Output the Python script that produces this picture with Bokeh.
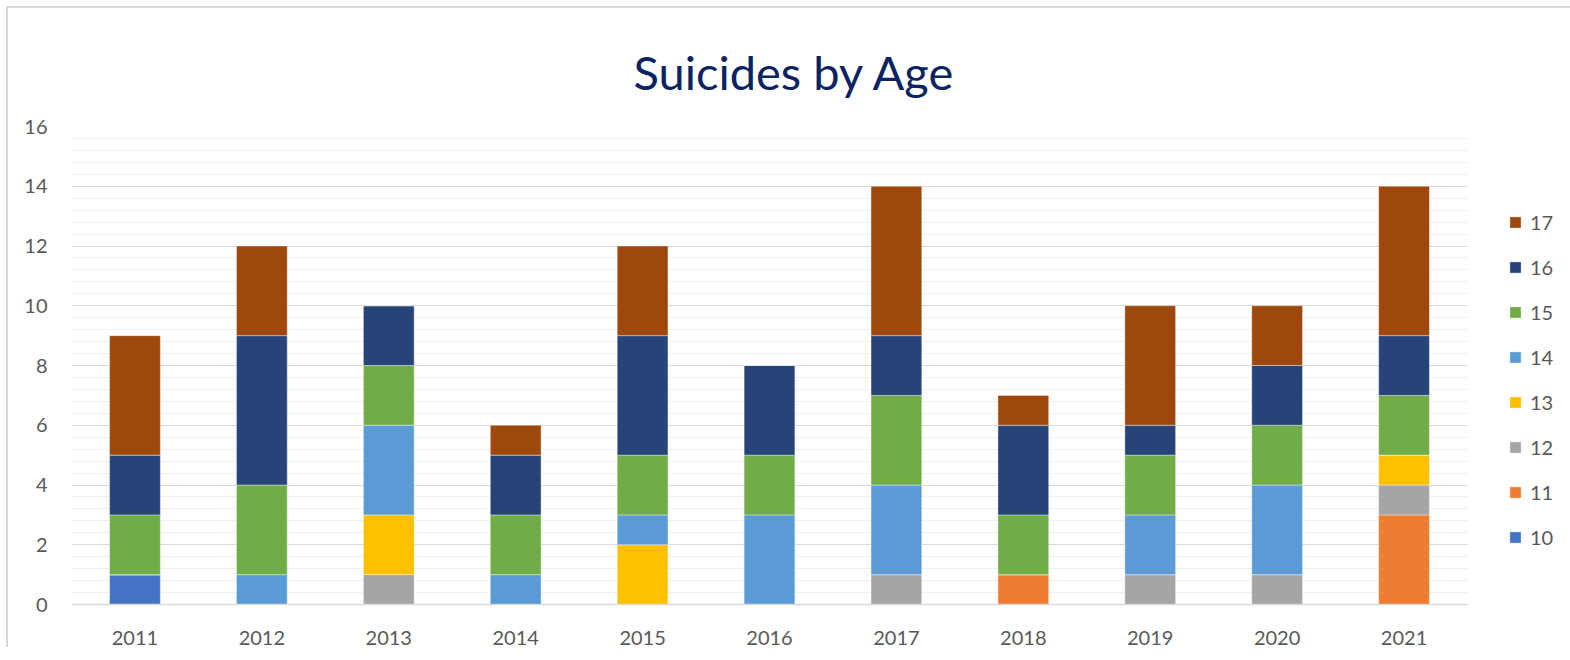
from bokeh.plotting import figure
from bokeh.models import (FactorRange, Range1d, SingleIntervalTicker, Legend,
                          LegendItem)
from bokeh.embed import file_html
from bokeh.resources import INLINE

years = ["2011", "2012", "2013", "2014", "2015", "2016", "2017", "2018", "2019", "2020", "2021"]
ages = ["10", "11", "12", "13", "14", "15", "16", "17"]
age10 = [1, 0, 0, 0, 0, 0, 0, 0, 0, 0, 0]
age11 = [0, 0, 0, 0, 0, 0, 0, 1, 0, 0, 3]
age12 = [0, 0, 1, 0, 0, 0, 1, 0, 1, 1, 1]
age13 = [0, 0, 2, 0, 2, 0, 0, 0, 0, 0, 1]
age14 = [0, 1, 3, 1, 1, 3, 3, 0, 2, 3, 0]
age15 = [2, 3, 2, 2, 2, 2, 3, 2, 2, 2, 2]
age16 = [2, 5, 2, 2, 4, 3, 2, 3, 1, 2, 2]
age17 = [4, 3, 0, 1, 3, 0, 5, 1, 4, 2, 5]
colors = ["#4472C4", "#ED7D31", "#A5A5A5", "#FFC000", "#5B9BD5", "#70AD47", "#264478", "#9E480E"]
title_text = "Suicides by Age"

data = {"year": years}
for a, vals in zip(ages, [age10, age11, age12, age13, age14, age15, age16, age17]):
    data[a] = vals

FONT = "Lato"
GREY = "#595959"

p = figure(x_range=FactorRange(*years, range_padding=0), y_range=Range1d(0, 16),
           frame_width=1396, frame_height=478, output_backend="svg", toolbar_location=None,
           min_border_left=63, min_border_right=101, min_border_top=118, min_border_bottom=40,
           title=title_text)
p.outline_line_color = None
p.border_fill_color = None
p.styles = {"margin-left": "6px", "margin-top": "6px",
            "border-left": "2px solid #d9d9d9", "border-top": "2px solid #d9d9d9",
            "border-right": "none", "border-bottom": "none"}

renderers = p.vbar_stack(ages, x="year", width=0.40, source=data, color=colors,
                         line_color="white", line_alpha=0.4, line_width=1)

p.title.align = "left"
p.title.offset = 562
p.title.vertical_align = "top"
p.title.standoff = 50
p.title.text_font = FONT
p.title.text_font_size = "47px"
p.title.text_font_style = "normal"
p.title.text_color = "#0A2463"

p.yaxis.ticker = SingleIntervalTicker(interval=2, num_minor_ticks=5)
p.ygrid.grid_line_color = "#d9d9d9"
p.ygrid.grid_line_width = 1.2
p.ygrid.minor_grid_line_color = "#f0f0f0"
p.ygrid.minor_grid_line_width = 1.2
p.xgrid.grid_line_color = None

p.yaxis.axis_line_color = None
p.yaxis.major_tick_line_color = None
p.yaxis.minor_tick_line_color = None
p.yaxis.major_label_standoff = 18
p.yaxis.major_label_text_font = FONT
p.yaxis.major_label_text_font_size = "20px"
p.yaxis.major_label_text_color = GREY

p.xaxis.axis_line_color = "#d9d9d9"
p.xaxis.axis_line_width = 1.5
p.xaxis.major_tick_line_color = None
p.xaxis.minor_tick_line_color = None
p.xaxis.major_label_standoff = 20
p.xaxis.major_label_text_font = FONT
p.xaxis.major_label_text_font_size = "20px"
p.xaxis.major_label_text_color = GREY

items = [LegendItem(label=a, renderers=[r]) for a, r in zip(ages, renderers)][::-1]
legend = Legend(items=items, location=(41, 55), padding=0, margin=0,
                glyph_width=14, glyph_height=14, label_height=22, spacing=21,
                label_standoff=8, label_text_font=FONT, label_text_font_size="20px",
                label_text_color=GREY, border_line_color=None, background_fill_alpha=0)
p.add_layout(legend, "right")

open("out.html", "w").write(file_html(p, INLINE))
